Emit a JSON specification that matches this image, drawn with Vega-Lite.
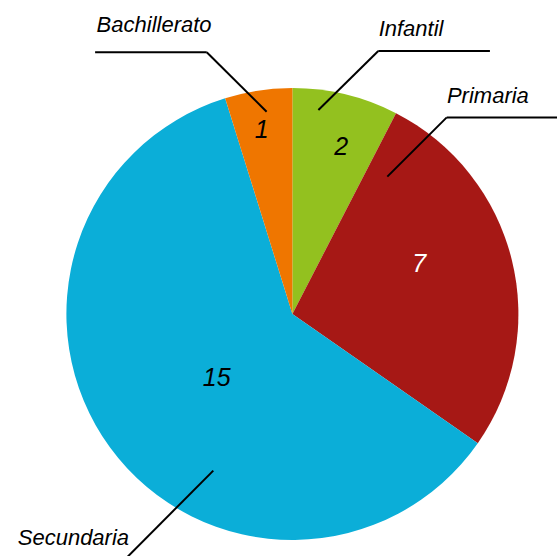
{
  "$schema": "https://vega.github.io/schema/vega-lite/v6.json",
  "width": 452,
  "height": 452,
  "autosize": {"type": "none"},
  "padding": {"left": 66.4, "top": 88, "right": 38.6, "bottom": 16},
  "background": "white",
  "config": {"view": {"stroke": null}},
  "datasets": {
    "sectors": [
      {"category": "Infantil", "count": 2, "share": 7.58, "rank": 1},
      {"category": "Primaria", "count": 7, "share": 27.11, "rank": 2},
      {"category": "Secundaria", "count": 15, "share": 60.5, "rank": 3},
      {"category": "Bachillerato", "count": 1, "share": 4.81, "rank": 4}
    ],
    "layout": [
      {"category": "Infantil", "nameX": 0.525, "nameY": 1.23, "numX": 0.216, "numY": 0.704},
      {"category": "Primaria", "nameX": 0.865, "nameY": 0.934, "numX": 0.561, "numY": 0.185},
      {"category": "Secundaria", "nameX": -0.969, "nameY": -1.022, "numX": -0.335, "numY": -0.319},
      {"category": "Bachillerato", "nameX": -0.612, "nameY": 1.246, "numX": -0.136, "numY": 0.777}
    ],
    "leaders": [
      {"category": "Bachillerato", "x": -0.873, "y": 1.158, "x2": -0.379, "y2": 1.158},
      {"category": "Bachillerato", "x": -0.379, "y": 1.158, "x2": -0.114, "y2": 0.895},
      {"category": "Infantil", "x": 0.38, "y": 1.164, "x2": 0.874, "y2": 1.164},
      {"category": "Infantil", "x": 0.38, "y": 1.164, "x2": 0.115, "y2": 0.903},
      {"category": "Primaria", "x": 0.683, "y": 0.87, "x2": 1.2, "y2": 0.87},
      {"category": "Primaria", "x": 0.683, "y": 0.87, "x2": 0.42, "y2": 0.608},
      {"category": "Secundaria", "x": -0.35, "y": -0.693, "x2": -0.745, "y2": -1.09}
    ]
  },
  "layer": [
    {
      "data": {"name": "sectors"},
      "mark": {"type": "arc", "stroke": null},
      "encoding": {
        "theta": {"field": "share", "type": "quantitative", "stack": true},
        "order": {"field": "rank", "type": "quantitative"},
        "color": {
          "field": "category",
          "type": "nominal",
          "legend": null,
          "scale": {
            "domain": ["Infantil", "Primaria", "Secundaria", "Bachillerato"],
            "range": ["#93C11F", "#A61815", "#0BAED8", "#EF7600"]
          }
        }
      }
    },
    {
      "data": {"name": "leaders"},
      "mark": {"type": "rule", "color": "black", "strokeWidth": 2},
      "encoding": {
        "x": {"field": "x", "type": "quantitative", "axis": null, "scale": {"domain": [-1, 1], "nice": false, "zero": false}},
        "y": {"field": "y", "type": "quantitative", "axis": null, "scale": {"domain": [-1, 1], "nice": false, "zero": false}},
        "x2": {"field": "x2"},
        "y2": {"field": "y2"}
      }
    },
    {
      "data": {"name": "layout"},
      "mark": {"type": "text", "font": "Liberation Sans", "fontStyle": "italic", "fontSize": 22, "align": "center", "baseline": "alphabetic", "color": "black"},
      "encoding": {
        "x": {"field": "nameX", "type": "quantitative", "axis": null, "scale": {"domain": [-1, 1], "nice": false, "zero": false}},
        "y": {"field": "nameY", "type": "quantitative", "axis": null, "scale": {"domain": [-1, 1], "nice": false, "zero": false}},
        "text": {"field": "category", "type": "nominal"}
      }
    },
    {
      "data": {"name": "sectors"},
      "transform": [
        {"lookup": "category", "from": {"data": {"name": "layout"}, "key": "category", "fields": ["numX", "numY"]}}
      ],
      "mark": {"type": "text", "font": "Liberation Sans", "fontStyle": "italic", "fontSize": 25, "align": "center", "baseline": "alphabetic"},
      "encoding": {
        "x": {"field": "numX", "type": "quantitative", "axis": null, "scale": {"domain": [-1, 1], "nice": false, "zero": false}},
        "y": {"field": "numY", "type": "quantitative", "axis": null, "scale": {"domain": [-1, 1], "nice": false, "zero": false}},
        "text": {"field": "count", "type": "quantitative"},
        "color": {"condition": {"test": "datum.category === 'Primaria'", "value": "white"}, "value": "black"}
      }
    }
  ]
}
